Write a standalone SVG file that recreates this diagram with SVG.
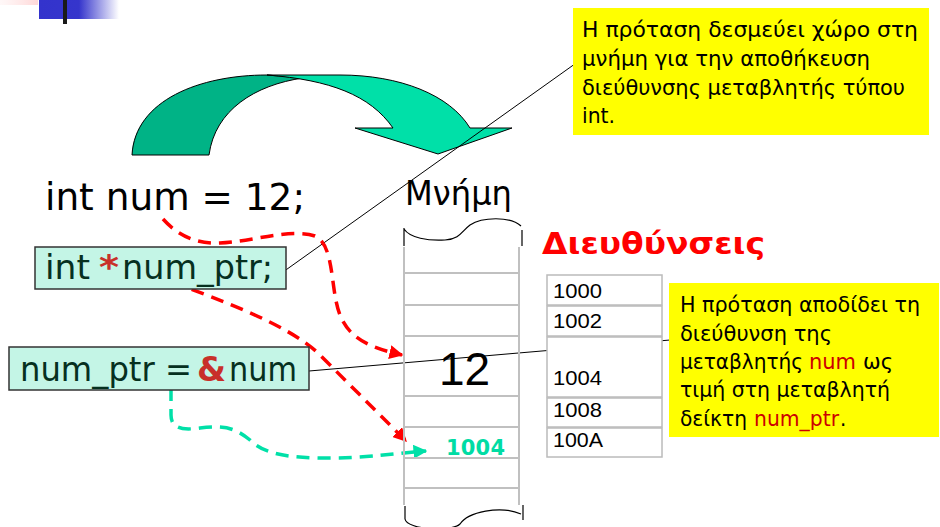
<svg xmlns="http://www.w3.org/2000/svg" width="940" height="527" viewBox="0 0 940 527">
<defs>
<linearGradient id="gBlue" x1="0" y1="0" x2="1" y2="0">
<stop offset="0" stop-color="#3333CC"/>
<stop offset="0.5" stop-color="#3535CC"/>
<stop offset="1" stop-color="#3333CC" stop-opacity="0"/>
</linearGradient>
<linearGradient id="gPink" x1="0" y1="0" x2="1" y2="0">
<stop offset="0" stop-color="#FFE8E8" stop-opacity="0.3"/>
<stop offset="1" stop-color="#FFB0B0" stop-opacity="0.5"/>
</linearGradient>
<marker id="arRed" viewBox="0 0 10 10" refX="9" refY="5" markerWidth="4" markerHeight="4" orient="auto" markerUnits="strokeWidth">
<path d="M0,0 L10,5 L0,10 Z" fill="#FF0000"/>
</marker>
<marker id="arGreen" viewBox="0 0 10 10" refX="9" refY="5" markerWidth="4" markerHeight="4" orient="auto" markerUnits="strokeWidth">
<path d="M0,0 L10,5 L0,10 Z" fill="#00E0A8"/>
</marker>
<style>
.code{font-family:"DejaVu Sans Condensed","DejaVu Sans",sans-serif;fill:#06301F;font-size:34px}
.big{font-family:"DejaVu Sans",Verdana,sans-serif;fill:#000}
.star{font-family:"DejaVu Sans Condensed","DejaVu Sans",sans-serif;font-size:34px;font-weight:bold;fill:#C8302A}
.codebox{fill:#C4F5E6;stroke:#333;stroke-width:1.5}
.note{fill:#FFFF00}
.notetxt{font-family:"DejaVu Sans Condensed","DejaVu Sans",sans-serif;font-size:22px;fill:#000}
.hl{font-family:"DejaVu Sans Condensed","DejaVu Sans",sans-serif;font-size:22px;fill:#CC0000}
.grid{stroke:#C0C0C0;stroke-width:2;fill:none}
.cap{stroke:#000;stroke-width:1.2;fill:none}
.addr{fill:#fff;stroke:#BBBBBB;stroke-width:1.5}
.addrtxt{font-family:"Liberation Sans",Arial,sans-serif;font-size:20px;fill:#000}
.thin{stroke:#000;stroke-width:1;fill:none}
.dashR{stroke:#FF0000;stroke-width:3.5;fill:none;stroke-dasharray:13 8}
.dashG{stroke:#00E0A8;stroke-width:3.5;fill:none;stroke-dasharray:13 8}
</style>
</defs>
<rect x="0" y="0" width="940" height="527" fill="#FFFFFF"/>
<rect x="0" y="0" width="38" height="5" fill="url(#gPink)"/>
<rect x="39" y="0" width="80" height="19" fill="url(#gBlue)"/>
<rect x="63" y="0" width="4" height="24" fill="#1A1A1A"/>

<g id="curved-arrow">
<path d="M132,155 C135,100 200,75 267,75 C280,76 292,77 303,78 C255,85 215,110 209,155 Z" fill="#00B386" stroke="#000" stroke-width="1"/>
<path d="M267,75 L340,75 C400,75 450,95 470,128 L512,128 L438,154 L355,128 L393,128 C370,95 330,80 267,75 Z" fill="#00E0A8" stroke="#000" stroke-width="1"/>
</g>

<g id="connectors">
<line class="thin" x1="283" y1="272" x2="579" y2="61"/>
<line class="thin" x1="309" y1="371" x2="670" y2="340"/>
<path class="dashR" d="M163,219 C180,238 200,244 220,243 C250,242 290,228 315,236 C335,245 330,290 340,315 C350,340 372,348 402,355" marker-end="url(#arRed)"/>
<path class="dashR" d="M172,282 C220,300 290,325 320,355 C350,385 375,410 406,441" marker-end="url(#arRed)"/>
<path class="dashG" d="M171,388 L171,415 C171,430 185,430 200,428 C225,425 235,428 250,440 C265,455 290,458 330,458 C370,458 395,453 426,451" marker-end="url(#arGreen)"/>
</g>

<g id="stmt-num">
<text class="big" x="45" y="210" font-size="37" textLength="260" lengthAdjust="spacingAndGlyphs">int num = 12;</text>
</g>

<g id="stmt-decl">
<rect class="codebox" x="35" y="247" width="251" height="42"/>
<text class="code" x="45" y="279" textLength="45" lengthAdjust="spacingAndGlyphs">int</text>
<text class="star" x="99" y="279" textLength="20" lengthAdjust="spacingAndGlyphs">*</text>
<text class="code" x="122" y="279" textLength="151" lengthAdjust="spacingAndGlyphs">num_ptr;</text>
</g>

<g id="stmt-assign">
<rect class="codebox" x="9" y="347" width="300" height="43"/>
<text class="code" x="20" y="381" textLength="172" lengthAdjust="spacingAndGlyphs">num_ptr =</text>
<text class="star" x="197" y="381" textLength="29" lengthAdjust="spacingAndGlyphs">&amp;</text>
<text class="code" x="229" y="381" textLength="68" lengthAdjust="spacingAndGlyphs">num</text>
</g>

<g id="memory">
<text class="big" x="405" y="205" font-size="33" textLength="107" lengthAdjust="spacingAndGlyphs">Μνήμη</text>
<path class="cap" d="M404,228 L404,246 M404,229 C410,238 428,241 445,240 C460,239 462,231 470,225 C482,217 510,216 521,226 M522,230 L522,246"/>
<line class="grid" x1="404" y1="247" x2="404" y2="505"/>
<line class="grid" x1="519" y1="247" x2="519" y2="505"/>
<line class="grid" x1="404" y1="273" x2="519" y2="273"/>
<line class="grid" x1="404" y1="305" x2="519" y2="305"/>
<line class="grid" x1="404" y1="336" x2="519" y2="336"/>
<line class="grid" x1="404" y1="396" x2="519" y2="396"/>
<line class="grid" x1="404" y1="427" x2="519" y2="427"/>
<line class="grid" x1="404" y1="458" x2="519" y2="458"/>
<line class="grid" x1="404" y1="488" x2="519" y2="488"/>
<path class="cap" d="M405,506 L405,519 C407,530 452,532 460,524 C468,512 500,505 521,514 M523,505 L523,520"/>
<text x="439" y="385" font-family="'Liberation Sans',Arial,sans-serif" font-size="46" fill="#000">12</text>
<text x="446" y="455" font-family="'DejaVu Sans',Verdana,sans-serif" font-size="21" font-weight="bold" fill="#00DCA4" textLength="59">1004</text>
</g>

<g id="addresses">
<text x="542" y="254" font-family="'DejaVu Sans',Verdana,sans-serif" font-size="30" font-weight="bold" fill="#FF0000" textLength="223" lengthAdjust="spacingAndGlyphs">Διευθύνσεις</text>
<rect class="addr" x="547" y="275" width="115" height="30"/>
<rect class="addr" x="547" y="306" width="115" height="30"/>
<rect class="addr" x="547" y="337" width="115" height="60"/>
<rect class="addr" x="547" y="398" width="115" height="29"/>
<rect class="addr" x="547" y="428" width="115" height="29"/>
<text class="addrtxt" x="553" y="298" textLength="49" lengthAdjust="spacingAndGlyphs">1000</text>
<text class="addrtxt" x="553" y="328" textLength="49" lengthAdjust="spacingAndGlyphs">1002</text>
<text class="addrtxt" x="553" y="385" textLength="49" lengthAdjust="spacingAndGlyphs">1004</text>
<text class="addrtxt" x="553" y="417" textLength="49" lengthAdjust="spacingAndGlyphs">1008</text>
<text class="addrtxt" x="553" y="447" textLength="50" lengthAdjust="spacingAndGlyphs">100A</text>
</g>

<g id="note1">
<rect class="note" x="573" y="8" width="356" height="127"/>
<text class="notetxt" x="582" y="37" textLength="336" lengthAdjust="spacingAndGlyphs">Η πρόταση δεσμεύει χώρο στη</text>
<text class="notetxt" x="582" y="66" textLength="288" lengthAdjust="spacingAndGlyphs">μνήμη για την αποθήκευση</text>
<text class="notetxt" x="582" y="95" textLength="323" lengthAdjust="spacingAndGlyphs">διεύθυνσης μεταβλητής τύπου</text>
<text class="notetxt" x="582" y="123" textLength="33" lengthAdjust="spacingAndGlyphs">int.</text>
</g>

<g id="note2">
<rect class="note" x="669" y="283" width="270" height="154"/>
<text class="notetxt" x="680" y="312" textLength="240" lengthAdjust="spacingAndGlyphs">Η πρόταση αποδίδει τη</text>
<text class="notetxt" x="680" y="341" textLength="152" lengthAdjust="spacingAndGlyphs">διεύθυνση της</text>
<text class="notetxt" x="680" y="369" textLength="123" lengthAdjust="spacingAndGlyphs">μεταβλητής</text>
<text class="hl" x="809" y="369" textLength="47" lengthAdjust="spacingAndGlyphs">num</text>
<text class="notetxt" x="863" y="369" textLength="30" lengthAdjust="spacingAndGlyphs">ως</text>
<text class="notetxt" x="680" y="426" textLength="67" lengthAdjust="spacingAndGlyphs">δείκτη</text>
<text class="notetxt" x="680" y="397" textLength="210" lengthAdjust="spacingAndGlyphs">τιμή στη μεταβλητή</text>
<text class="hl" x="754" y="426" textLength="85" lengthAdjust="spacingAndGlyphs">num_ptr</text>
<text class="notetxt" x="840" y="426">.</text>
</g>
</svg>
